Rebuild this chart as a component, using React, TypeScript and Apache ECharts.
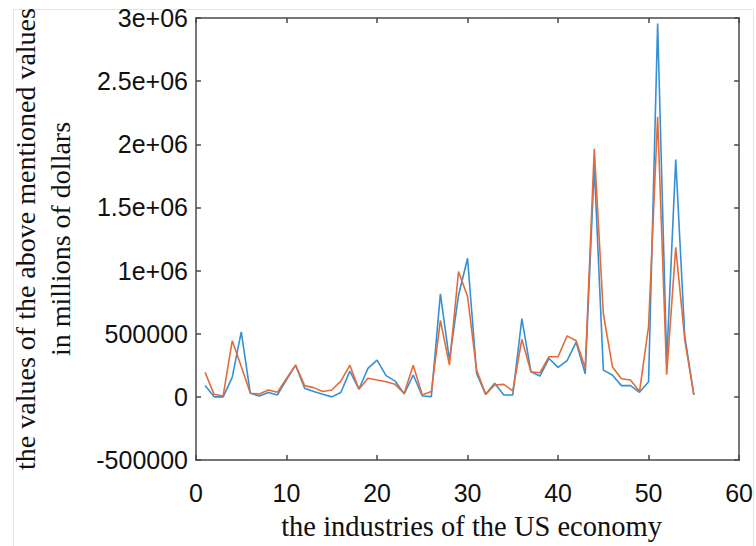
import React, { useEffect, useRef } from "react";
import * as echarts from "echarts";

// Industry index along the horizontal axis
const industries = [
  1, 2, 3, 4, 5, 6, 7, 8, 9, 10, 11, 12, 13, 14, 15, 16, 17, 18, 19, 20,
  21, 22, 23, 24, 25, 26, 27, 28, 29, 30, 31, 32, 33, 34, 35, 36, 37, 38, 39, 40,
  41, 42, 43, 44, 45, 46, 47, 48, 49, 50, 51, 52, 53, 54, 55,
];

// First series (blue), millions of dollars
const blueValues = [
  89000, 0, 0, 154000, 514000, 28000, 7000, 34000, 15000, 135000,
  251000, 68000, 42000, 20000, 0, 34000, 204000, 62000, 225000, 291000,
  168000, 125000, 23000, 173000, 7000, 2000, 816000, 291000, 803000, 1098000,
  186000, 20000, 107000, 15000, 15000, 619000, 199000, 165000, 304000, 233000,
  287000, 433000, 182000, 1827000, 212000, 173000, 89000, 89000, 36000, 120000,
  2957000, 280000, 1880000, 480000, 15000,
];

// Second series (orange), millions of dollars
const orangeValues = [
  194000, 20000, 7000, 444000, 240000, 28000, 23000, 54000, 36000, 145000,
  251000, 89000, 73000, 42000, 54000, 125000, 251000, 60000, 147000, 133000,
  120000, 99000, 28000, 251000, 15000, 42000, 606000, 251000, 992000, 795000,
  212000, 20000, 94000, 99000, 47000, 456000, 199000, 191000, 318000, 318000,
  483000, 444000, 228000, 1965000, 660000, 239000, 143000, 133000, 42000, 560000,
  2217000, 176000, 1184000, 450000, 15000,
];

const yTickLabels = [
  "-500000", "0", "500000", "1e+06", "1.5e+06", "2e+06", "2.5e+06", "3e+06",
];
const yMin = -500000;
const yMax = 3000000;
const yStep = 500000;

const xMin = 0;
const xMax = 60;
const xStep = 10;

const axisColor = "#4a4a4a";
const sansFont = "'Liberation Sans', Arial, sans-serif";
const serifFont = "'Liberation Serif', 'Times New Roman', serif";

export default function App() {
  const ref = useRef<HTMLDivElement>(null);

  useEffect(() => {
    if (!ref.current) return;
    const chart = echarts.init(ref.current, null, { renderer: "svg" });

    const pairs = (vals: number[]) => industries.map((x, i) => [x, vals[i]]);

    const tickLabel = (v: number) => {
      const idx = Math.round((v - yMin) / yStep);
      return yTickLabels[idx] ?? String(v);
    };

    const axisLine = { show: true, onZero: false, lineStyle: { color: axisColor, width: 1.5 } };
    const axisTick = { show: true, inside: true, length: 5, lineStyle: { color: axisColor, width: 1.5 } };

    chart.setOption({
      animation: false,
      backgroundColor: "#ffffff",
      graphic: [
        {
          type: "rect",
          shape: { x: 13.5, y: 9.5, width: 740, height: 560 },
          style: { fill: "none", stroke: "#e4e4e4", lineWidth: 1 },
          silent: true,
        },
      ],
      grid: { left: 193, right: 14, top: 18, bottom: 84, containLabel: false },
      xAxis: [
        {
          type: "value",
          min: xMin,
          max: xMax,
          interval: xStep,
          position: "bottom",
          axisLine,
          axisTick,
          splitLine: { show: false },
          axisLabel: {
            margin: 20,
            fontFamily: sansFont,
            fontSize: 25,
            color: "#111111",
          },
          name: "the industries of the US economy",
          nameLocation: "middle",
          nameGap: 52,
          nameTextStyle: {
            fontFamily: serifFont,
            fontSize: 28.5,
            color: "#111111",
            padding: [0, 0, 0, 8],
          },
        },
        {
          type: "value",
          min: xMin,
          max: xMax,
          interval: xStep,
          position: "top",
          axisLine,
          axisTick,
          splitLine: { show: false },
          axisLabel: { show: false },
        },
      ],
      yAxis: [
        {
          type: "value",
          min: yMin,
          max: yMax,
          interval: yStep,
          position: "left",
          axisLine,
          axisTick,
          splitLine: { show: false },
          axisLabel: {
            margin: 8,
            fontFamily: sansFont,
            fontSize: 25,
            color: "#111111",
            formatter: tickLabel,
          },
          name: "the values of the above mentioned values\nin millions of dollars",
          nameLocation: "middle",
          nameGap: 118,
          nameRotate: 90,
          nameTextStyle: {
            fontFamily: serifFont,
            fontSize: 28,
            lineHeight: 35,
            color: "#111111",
            align: "center",
          },
        },
        {
          type: "value",
          min: yMin,
          max: yMax,
          interval: yStep,
          position: "right",
          axisLine,
          axisTick,
          splitLine: { show: false },
          axisLabel: { show: false },
        },
      ],
      series: [
        {
          type: "line",
          data: pairs(blueValues),
          showSymbol: false,
          symbol: "none",
          lineStyle: { color: "#3590d4", width: 1.6 },
          itemStyle: { color: "#3590d4" },
        },
        {
          type: "line",
          data: pairs(orangeValues),
          showSymbol: false,
          symbol: "none",
          lineStyle: { color: "#e26c3c", width: 1.6 },
          itemStyle: { color: "#e26c3c" },
        },
      ],
    });

    return () => chart.dispose();
  }, []);

  return (
    <div
      ref={ref}
      style={{ position: "fixed", left: 0, top: 0, width: 756, height: 546 }}
    />
  );
}
